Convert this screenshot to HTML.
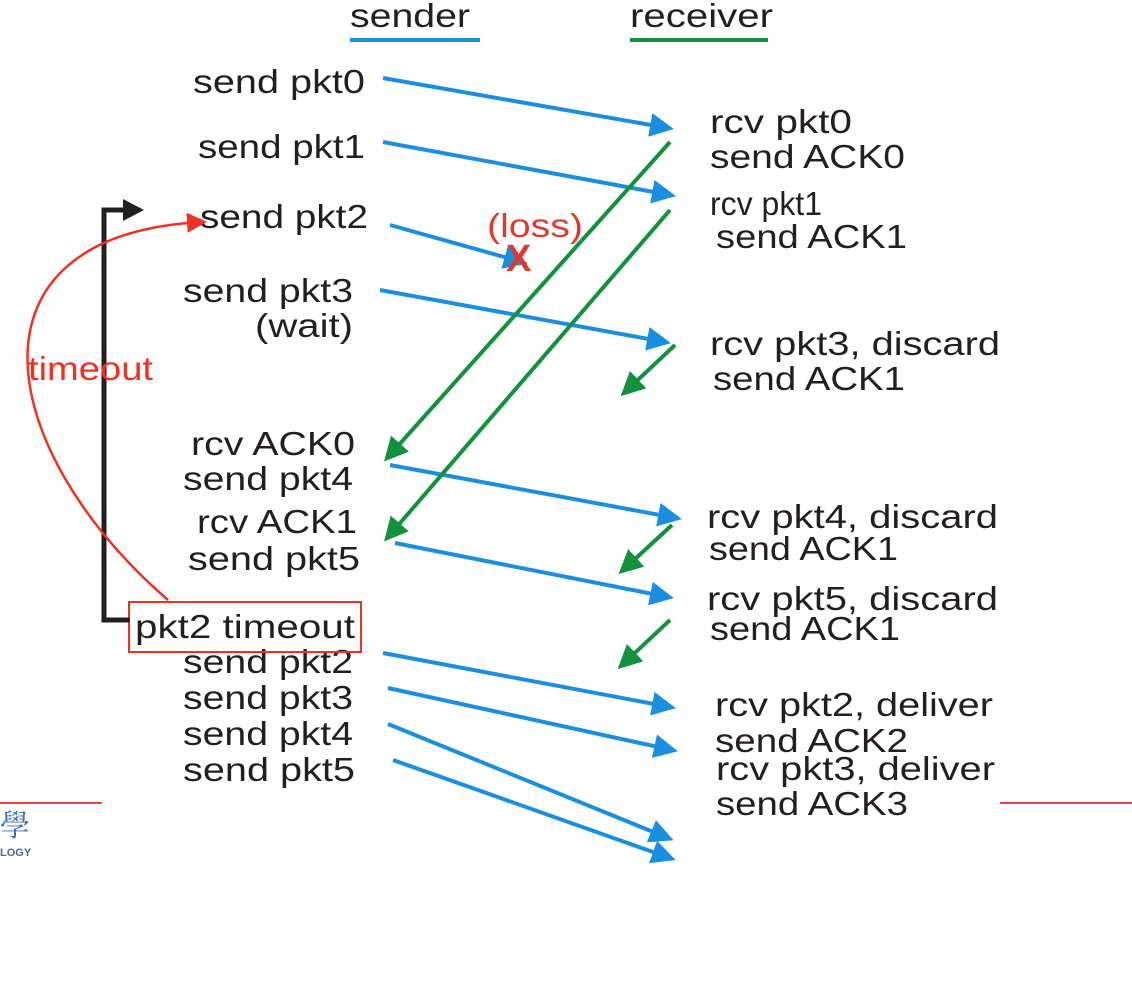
<!DOCTYPE html>
<html><head><meta charset="utf-8"><style>
html,body{margin:0;padding:0;background:#fff;}
svg{display:block;}
text{font-family:"Liberation Sans",sans-serif;font-size:33px;fill:#231f20;}
.r{fill:#e03a2f;}
</style></head><body>
<svg width="1132" height="994" viewBox="0 0 1132 994" xmlns="http://www.w3.org/2000/svg">
<defs>
<marker id="ab" markerWidth="6" markerHeight="6" refX="4.5" refY="3" orient="auto" markerUnits="strokeWidth"><path d="M0,0 L6,3 L0,6 z" fill="#1a8fe0"/></marker>
<marker id="ag" markerWidth="6" markerHeight="6" refX="4.5" refY="3" orient="auto" markerUnits="strokeWidth"><path d="M0,0 L6,3 L0,6 z" fill="#14913e"/></marker>
<marker id="ar" markerWidth="8" markerHeight="8" refX="6" refY="4" orient="auto" markerUnits="strokeWidth"><path d="M0,0 L8,4 L0,8 z" fill="#f03020"/></marker>
</defs>
<text x="350" y="27" textLength="120" lengthAdjust="spacingAndGlyphs">sender</text>
<line x1="350" y1="40" x2="480" y2="40" stroke="#1a8fe0" stroke-width="4"/>
<text x="630" y="27" textLength="143" lengthAdjust="spacingAndGlyphs">receiver</text>
<line x1="630" y1="40" x2="768" y2="40" stroke="#14913e" stroke-width="4"/>
<g>
<text x="193" y="93" textLength="172" lengthAdjust="spacingAndGlyphs">send pkt0</text>
<text x="198" y="158" textLength="167" lengthAdjust="spacingAndGlyphs">send pkt1</text>
<text x="200" y="228" textLength="168" lengthAdjust="spacingAndGlyphs">send pkt2</text>
<text x="183" y="302" textLength="170" lengthAdjust="spacingAndGlyphs">send pkt3</text>
<text x="255" y="337" textLength="98" lengthAdjust="spacingAndGlyphs">(wait)</text>
<text x="191" y="455" textLength="164" lengthAdjust="spacingAndGlyphs">rcv ACK0</text>
<text x="183" y="490" textLength="170" lengthAdjust="spacingAndGlyphs">send pkt4</text>
<text x="197" y="533" textLength="160" lengthAdjust="spacingAndGlyphs">rcv ACK1</text>
<text x="188" y="570" textLength="172" lengthAdjust="spacingAndGlyphs">send pkt5</text>
<text x="135" y="638" textLength="220" lengthAdjust="spacingAndGlyphs">pkt2 timeout</text>
<text x="183" y="673" textLength="170" lengthAdjust="spacingAndGlyphs">send pkt2</text>
<text x="183" y="709" textLength="170" lengthAdjust="spacingAndGlyphs">send pkt3</text>
<text x="183" y="745" textLength="170" lengthAdjust="spacingAndGlyphs">send pkt4</text>
<text x="183" y="781" textLength="172" lengthAdjust="spacingAndGlyphs">send pkt5</text>
</g>
<rect x="129" y="602" width="232" height="50" fill="none" stroke="#f03020" stroke-width="2"/>
<g>
<text x="710" y="133" textLength="142" lengthAdjust="spacingAndGlyphs">rcv pkt0</text>
<text x="710" y="168" textLength="195" lengthAdjust="spacingAndGlyphs">send ACK0</text>
<text x="710" y="215" textLength="112" lengthAdjust="spacingAndGlyphs">rcv pkt1</text>
<text x="716" y="248" textLength="191" lengthAdjust="spacingAndGlyphs">send ACK1</text>
<text x="710" y="355" textLength="290" lengthAdjust="spacingAndGlyphs">rcv pkt3, discard</text>
<text x="713" y="390" textLength="192" lengthAdjust="spacingAndGlyphs">send ACK1</text>
<text x="707" y="528" textLength="291" lengthAdjust="spacingAndGlyphs">rcv pkt4, discard</text>
<text x="709" y="560" textLength="189" lengthAdjust="spacingAndGlyphs">send ACK1</text>
<text x="707" y="610" textLength="291" lengthAdjust="spacingAndGlyphs">rcv pkt5, discard</text>
<text x="710" y="640" textLength="190" lengthAdjust="spacingAndGlyphs">send ACK1</text>
<text x="715" y="716" textLength="278" lengthAdjust="spacingAndGlyphs">rcv pkt2, deliver</text>
<text x="715" y="752" textLength="193" lengthAdjust="spacingAndGlyphs">send ACK2</text>
<text x="716" y="780" textLength="279" lengthAdjust="spacingAndGlyphs">rcv pkt3, deliver</text>
<text x="716" y="815" textLength="192" lengthAdjust="spacingAndGlyphs">send ACK3</text>
</g>
<g stroke="#1a8fe0" stroke-width="4" fill="none" marker-end="url(#ab)">
<line x1="383" y1="78" x2="668" y2="128"/>
<line x1="383" y1="142" x2="670" y2="195"/>
<line x1="390" y1="225" x2="522" y2="262"/>
<line x1="380" y1="290" x2="665" y2="342"/>
<line x1="390" y1="465" x2="676" y2="518"/>
<line x1="395" y1="543" x2="668" y2="597"/>
<line x1="383" y1="653" x2="670" y2="707"/>
<line x1="388" y1="688" x2="672" y2="750"/>
<line x1="388" y1="724" x2="668" y2="838"/>
<line x1="393" y1="760" x2="670" y2="858"/>
</g>
<g stroke="#14913e" stroke-width="4" fill="none" marker-end="url(#ag)">
<line x1="670" y1="142" x2="388" y2="457"/>
<line x1="670" y1="210" x2="388" y2="537"/>
<line x1="675" y1="345" x2="625" y2="392"/>
<line x1="672" y1="525" x2="623" y2="570"/>
<line x1="670" y1="620" x2="622" y2="665"/>
</g>
<text class="r" x="487" y="237" textLength="96" lengthAdjust="spacingAndGlyphs">(loss)</text>
<text class="r" x="506" y="271" style="font-weight:bold;font-size:38px">X</text>
<polyline points="130,620 104,620 104,210 125,210" fill="none" stroke="#231f20" stroke-width="5"/>
<path d="M123,199 L144,210 L123,221 z" fill="#231f20"/>
<path d="M168,600 C -5,450 -45,235 202,222" fill="none" stroke="#f03020" stroke-width="2.5" marker-end="url(#ar)"/>
<text x="28" y="380" textLength="125" lengthAdjust="spacingAndGlyphs" style="fill:#f03020">timeout</text>
<line x1="0" y1="803" x2="102" y2="803" stroke="#f04040" stroke-width="2"/>
<line x1="1000" y1="803" x2="1132" y2="803" stroke="#f04040" stroke-width="2"/>
<text x="0" y="836" style="font-family:'Noto Serif CJK SC',serif;font-size:30px;fill:#3a6fb0">學</text>
<text x="0" y="856" style="font-size:11px;font-weight:bold;fill:#4a6a90">LOGY</text>
</svg>
</body></html>
